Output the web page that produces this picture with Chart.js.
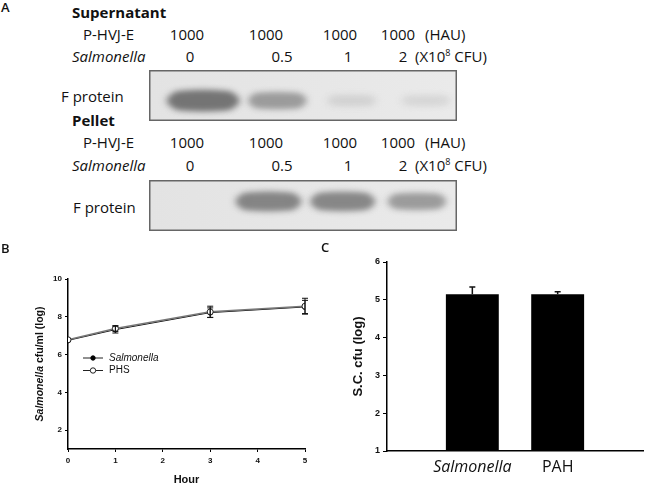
<!DOCTYPE html>
<html><head><meta charset="utf-8">
<script src="https://cdn.jsdelivr.net/npm/chart.js@4.4.1/dist/chart.umd.min.js"></script>
<style>
html,body{margin:0;padding:0;background:#fff;}
#wrap{position:relative;width:650px;height:483px;overflow:hidden;background:#fff;font-family:"Open Sans",sans-serif;color:#111;}
.t{position:absolute;white-space:nowrap;}
canvas{position:absolute;}
</style></head><body><div id="wrap">
<canvas id="blot1" width="308" height="51" style="left:149px;top:70px"></canvas>
<canvas id="blot2" width="308" height="51" style="left:149px;top:180px"></canvas>
<canvas id="chartB" width="320" height="243" style="left:0px;top:240px"></canvas>
<canvas id="chartC" width="330" height="243" style="left:320px;top:240px"></canvas>
</div>
<script>
// ---------------- data ----------------
const laneHAU = ['1000', '1000', '1000', '1000'];
const laneCFU = ['0', '0.5', '1', '2'];
const supernatantBands = [0.95, 0.6, 0.12, 0.08];   // relative band intensity
const pelletBands = [0, 0.8, 0.78, 0.6];

const bHours = [0, 1, 3, 5];
const salmonellaCfu = [6.75, 7.32, 8.22, 8.52];
const salmonellaErr = [0, 0.18, 0.25, 0.35];
const phsCfu = [6.78, 7.38, 8.26, 8.56];
const phsErr = [0, 0.15, 0.3, 0.42];
const bXTicks = [0, 1, 2, 3, 4, 5];
const bYTicks = [2, 4, 6, 8, 10];

const cCategories = ['Salmonella', 'PAH'];
const cValues = [5.15, 5.15];
const cErr = [0.19, 0.06];
const cYTicks = [1, 2, 3, 4, 5, 6];

// ---------------- panel A text ----------------
const wrap = document.getElementById('wrap');
function addText(html, x, yc, o) {
  o = o || {};
  const fs = o.size || 15, L = 20;
  const d = document.createElement('div');
  d.className = 't';
  d.innerHTML = html;
  d.style.fontSize = fs + 'px';
  d.style.lineHeight = L + 'px';
  d.style.fontWeight = o.weight || 400;
  if (o.italic) d.style.fontStyle = 'italic';
  d.style.left = x + 'px';
  d.style.top = (yc - L / 2 - 0.03 * fs) + 'px';
  if (o.center) d.style.transform = 'translateX(-50%)';
  wrap.appendChild(d);
}
const hauX = [187, 266, 340, 398];
const cfuX = [190, 282, 348, 403];
addText('A', 1, 7, {size: 13, weight: 600});
addText('B', 1, 248, {size: 13, weight: 600});
addText('C', 321, 247, {size: 13, weight: 600});
function headerRows(title, yTitle, y1, y2) {
  addText(title, 72, yTitle, {weight: 700});
  addText('P-HVJ-E', 83, y1);
  laneHAU.forEach((v, i) => addText(v, hauX[i], y1, {center: true}));
  addText('(HAU)', 425, y1);
  addText('Salmonella', 72, y2, {italic: true});
  laneCFU.forEach((v, i) => addText(v, cfuX[i], y2, {center: true}));
  addText('(X10<span style="font-size:9px;position:relative;top:-6px">8</span> CFU)', 415, y2);
}
headerRows('Supernatant', 12, 34.5, 56);
headerRows('Pellet', 120, 142.5, 165);
addText('F protein', 61, 96);
addText('F protein', 73, 207);

Chart.defaults.font.family = '"Liberation Sans", Arial, sans-serif';
Chart.defaults.color = '#111';

// ---------------- blots ----------------
function makeBlot(id, bands, xmin, xmax, yFrac) {
  new Chart(document.getElementById(id), {
    type: 'scatter',
    data: {datasets: [{data: bands.map((v, i) => ({x: i, y: v})), pointRadius: 0, showLine: false}]},
    options: {
      responsive: false, animation: false, events: [],
      layout: {padding: 0},
      plugins: {legend: {display: false}, tooltip: {enabled: false}},
      scales: {x: {type: 'linear', display: false, min: xmin, max: xmax}, y: {display: false, min: 0, max: 1}}
    },
    plugins: [{
      id: 'blot',
      beforeDatasetsDraw(chart) {
        const ctx = chart.ctx, ca = chart.chartArea;
        const g = ctx.createLinearGradient(ca.left, 0, ca.right, 0);
        g.addColorStop(0, '#e3e3e3'); g.addColorStop(1, '#eaeaea');
        ctx.save(); ctx.fillStyle = g; ctx.fillRect(ca.left, ca.top, ca.width, ca.height); ctx.restore();
      },
      afterDatasetsDraw(chart) {
        const ctx = chart.ctx, ca = chart.chartArea, xs = chart.scales.x;
        const lane = xs.getPixelForValue(1) - xs.getPixelForValue(0);
        const meta = chart.getDatasetMeta(0);
        const yc = ca.top + ca.height * yFrac;
        meta.data.forEach((pt, i) => {
          const I = chart.data.datasets[0].data[i].y;
          if (I <= 0) return;
          const w = lane * (0.68 + 0.35 * I * I);
          const h = 6 + 14 * I;
          const c = Math.round(222 - 112 * I);
          ctx.save();
          ctx.beginPath(); ctx.rect(ca.left + 1, ca.top + 1, ca.width - 2, ca.height - 2); ctx.clip();
          ctx.filter = 'blur(3.5px)';
          ctx.fillStyle = `rgb(${c},${c},${c})`;
          ctx.beginPath();
          ctx.ellipse(pt.x, yc, w / 2, h / 2, 0, 0, Math.PI * 2);
          ctx.fill();
          ctx.beginPath();
          ctx.roundRect(pt.x - w * 0.42, yc - h * 0.42, w * 0.84, h * 0.84, h * 0.3);
          ctx.fill();
          ctx.restore();
        });
        ctx.save();
        ctx.strokeStyle = '#666'; ctx.lineWidth = 1.5;
        ctx.strokeRect(ca.left + 0.75, ca.top + 0.75, ca.width - 1.5, ca.height - 1.5);
        ctx.restore();
      }
    }]
  });
}
makeBlot('blot1', supernatantBands, -0.73, 3.42, 0.6);
makeBlot('blot2', pelletBands, -0.61, 3.54, 0.42);

// ---------------- error bar plugin ----------------
function errorPlugin(upOnly, capHalf, lw) {
  return {
    id: 'errBars',
    afterDatasetsDraw(chart) {
      const ctx = chart.ctx, ys = chart.scales.y;
      chart.data.datasets.forEach((ds, di) => {
        if (!ds.errors) return;
        const meta = chart.getDatasetMeta(di);
        meta.data.forEach((el, j) => {
          const e = ds.errors[j];
          if (!e) return;
          const raw = ds.data[j];
          const v = Array.isArray(raw) ? raw[1] : (typeof raw === 'object' ? raw.y : raw);
          const yt = ys.getPixelForValue(v + e);
          const yb = upOnly ? ys.getPixelForValue(v) : ys.getPixelForValue(v - e);
          ctx.save();
          ctx.strokeStyle = '#111'; ctx.lineWidth = lw;
          ctx.beginPath();
          ctx.moveTo(el.x, yt); ctx.lineTo(el.x, yb);
          ctx.moveTo(el.x - capHalf, yt); ctx.lineTo(el.x + capHalf, yt);
          if (!upOnly) { ctx.moveTo(el.x - capHalf, yb); ctx.lineTo(el.x + capHalf, yb); }
          ctx.stroke();
          ctx.restore();
        });
      });
    }
  };
}

// ---------------- panel B ----------------
const axisGrid = {display: true, drawOnChartArea: false, drawTicks: true, tickLength: 3, color: '#000', lineWidth: 1};
const axisBorder = {display: true, color: '#000', width: 1.5};
new Chart(document.getElementById('chartB'), {
  type: 'line',
  data: {datasets: [
    {label: 'PHS', data: bHours.map((h, i) => ({x: h, y: phsCfu[i]})), errors: phsErr,
     borderColor: '#777', borderWidth: 1.5, pointRadius: 3, pointBackgroundColor: '#fff',
     pointBorderColor: '#222', pointBorderWidth: 1, order: 0},
    {label: 'Salmonella', data: bHours.map((h, i) => ({x: h, y: salmonellaCfu[i]})), errors: salmonellaErr,
     borderColor: '#111', borderWidth: 1, pointRadius: 2.5, pointBackgroundColor: '#000',
     pointBorderColor: '#000', pointBorderWidth: 1, order: 1}
  ]},
  options: {
    responsive: false, animation: false, events: [],
    layout: {padding: {left: 38, right: 15, top: 39, bottom: 14}},
    plugins: {legend: {display: false}, tooltip: {enabled: false}},
    scales: {
      x: {type: 'linear', min: 0, max: 5,
          afterBuildTicks: s => { s.ticks = bXTicks.map(v => ({value: v})); },
          afterFit: s => { s.height = 20; },
          grid: axisGrid, border: axisBorder,
          ticks: {font: {size: 8, weight: 'bold'}, padding: 4, maxRotation: 0}},
      y: {min: 1, max: 10,
          afterBuildTicks: s => { s.ticks = bYTicks.map(v => ({value: v})); },
          afterFit: s => { s.width = 30; },
          grid: axisGrid, border: axisBorder,
          ticks: {font: {size: 8, weight: 'bold'}, padding: 3}}
    }
  },
  plugins: [errorPlugin(false, 3, 1), {
    id: 'legendAndTitles',
    afterDraw(chart) {
      const ctx = chart.ctx, ca = chart.chartArea;
      // y title
      ctx.save();
      ctx.translate(40, (ca.top + ca.bottom) / 2);
      ctx.rotate(-Math.PI / 2);
      ctx.textBaseline = 'middle';
      ctx.fillStyle = '#111';
      const f1 = 'italic bold 10.5px "Liberation Sans"', f2 = 'bold 10.5px "Liberation Sans"';
      const p1 = 'Salmonella', p2 = ' cfu/ml (log)';
      ctx.font = f1; const w1 = ctx.measureText(p1).width;
      ctx.font = f2; const w2 = ctx.measureText(p2).width;
      let x0 = -(w1 + w2) / 2;
      ctx.font = f1; ctx.fillText(p1, x0, 0);
      ctx.font = f2; ctx.fillText(p2, x0 + w1, 0);
      ctx.restore();
      // x title
      ctx.save();
      ctx.font = 'bold 11px "Liberation Sans"';
      ctx.textAlign = 'center'; ctx.textBaseline = 'alphabetic'; ctx.fillStyle = '#111';
      ctx.fillText('Hour', (ca.left + ca.right) / 2, 242.5);
      ctx.restore();
      // legend
      const rows = [chart.data.datasets[1], chart.data.datasets[0]];
      rows.forEach((ds, r) => {
        const y = 118 + r * 12.5;
        ctx.save();
        ctx.strokeStyle = '#222'; ctx.lineWidth = 1;
        ctx.beginPath(); ctx.moveTo(83, y); ctx.lineTo(103, y); ctx.stroke();
        ctx.beginPath(); ctx.arc(93, y, ds.pointRadius - 0.3, 0, Math.PI * 2);
        ctx.fillStyle = ds.pointBackgroundColor; ctx.fill();
        ctx.strokeStyle = ds.pointBorderColor; ctx.stroke();
        ctx.font = (ds.label === 'Salmonella' ? 'italic ' : '') + '10px "Liberation Sans"';
        ctx.fillStyle = '#111'; ctx.textBaseline = 'middle';
        ctx.fillText(ds.label, 109, y);
        ctx.restore();
      });
    }
  }]
});

// ---------------- panel C ----------------
new Chart(document.getElementById('chartC'), {
  type: 'bar',
  data: {
    labels: ['', ...cCategories, ''],
    datasets: [{
      data: [null, ...cValues.map(v => [1, v]), null],
      errors: [null, ...cErr, null],
      backgroundColor: '#000', borderWidth: 0,
      barPercentage: 0.62, categoryPercentage: 1
    }]
  },
  options: {
    responsive: false, animation: false, events: [],
    layout: {padding: {left: 42, right: 5, top: 22, bottom: 7}},
    plugins: {legend: {display: false}, tooltip: {enabled: false}},
    scales: {
      x: {offset: false, grid: {display: false, drawTicks: false}, border: axisBorder,
          afterFit: s => { s.height = 25; },
          ticks: {autoSkip: false, maxRotation: 0, padding: 7, color: '#111',
                  font: ctx => ({family: '"Open Sans"', size: 16,
                                 style: (ctx.tick && ctx.tick.label === cCategories[0]) ? 'italic' : 'normal'})}},
      y: {min: 1, max: 6,
          afterBuildTicks: s => { s.ticks = cYTicks.map(v => ({value: v})); },
          afterFit: s => { s.width = 25; },
          grid: {display: true, drawOnChartArea: false, drawTicks: true, tickLength: 4, color: '#000', lineWidth: 1},
          border: axisBorder,
          ticks: {font: {size: 9, weight: 'bold'}, padding: 3}}
    }
  },
  plugins: [errorPlugin(true, 3, 1.5), {
    id: 'titleC',
    afterDraw(chart) {
      const ctx = chart.ctx, ca = chart.chartArea;
      ctx.save();
      ctx.translate(38, (ca.top + ca.bottom) / 2);
      ctx.rotate(-Math.PI / 2);
      ctx.font = 'bold 13px "Liberation Sans"';
      ctx.textAlign = 'center'; ctx.textBaseline = 'middle'; ctx.fillStyle = '#111';
      ctx.fillText('S.C. cfu (log)', 0, 0);
      ctx.restore();
    }
  }]
});
</script></body></html>
